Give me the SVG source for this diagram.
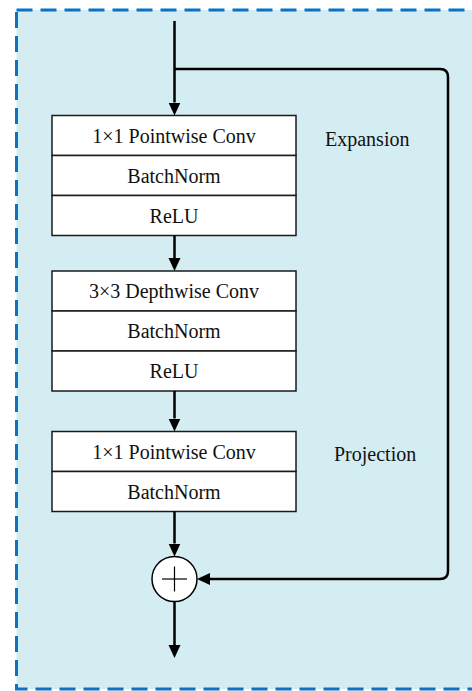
<svg xmlns="http://www.w3.org/2000/svg" width="472" height="691" viewBox="0 0 472 691">
  <style>
    .frame { fill: #d4edf2; stroke: #0b72c4; stroke-width: 3; stroke-dasharray: 16 8; }
    .cell { fill: #ffffff; stroke: #1a1a1a; stroke-width: 1.5; }
    .label { font-family: "Liberation Serif", "Times New Roman", serif; font-size: 20px; fill: #111111; }
    .mid { text-anchor: middle; }
    .wire { fill: none; stroke: #000000; stroke-width: 2.5; }
    .sum { fill: #ffffff; stroke: #000000; stroke-width: 1.5; }
    .plus { stroke: #000000; stroke-width: 1.2; }
  </style>
  <defs>
    <marker id="head" markerUnits="userSpaceOnUse" markerWidth="14" markerHeight="14" viewBox="0 -7 14 14" refX="0" refY="0" orient="auto">
      <path d="M0,-6 L13,0 L0,6 z" fill="#000000"/>
    </marker>
  </defs>

  <!-- dashed block boundary -->
  <rect class="frame" x="16.5" y="10" width="470" height="679"/>

  <!-- expansion stage -->
  <g id="expansion">
    <rect class="cell" x="52" y="115.5" width="244" height="40"/>
    <rect class="cell" x="52" y="155.5" width="244" height="40"/>
    <rect class="cell" x="52" y="195.5" width="244" height="40"/>
    <text class="label mid" x="174" y="142.5">1×1 Pointwise Conv</text>
    <text class="label mid" x="174" y="182.5">BatchNorm</text>
    <text class="label mid" x="174" y="222.5">ReLU</text>
  </g>
  <text id="expansion-label" class="label" x="325" y="146">Expansion</text>

  <!-- depthwise stage -->
  <g id="depthwise">
    <rect class="cell" x="52" y="271" width="244" height="40"/>
    <rect class="cell" x="52" y="311" width="244" height="40"/>
    <rect class="cell" x="52" y="351" width="244" height="40"/>
    <text class="label mid" x="174" y="298">3×3 Depthwise Conv</text>
    <text class="label mid" x="174" y="338">BatchNorm</text>
    <text class="label mid" x="174" y="378">ReLU</text>
  </g>

  <!-- projection stage -->
  <g id="projection">
    <rect class="cell" x="52" y="431.5" width="244" height="40"/>
    <rect class="cell" x="52" y="471.5" width="244" height="40"/>
    <text class="label mid" x="174" y="458.5">1×1 Pointwise Conv</text>
    <text class="label mid" x="174" y="498.5">BatchNorm</text>
  </g>
  <text id="projection-label" class="label" x="334" y="461">Projection</text>

  <!-- residual addition -->
  <g id="add">
    <circle class="sum" cx="174.5" cy="579" r="22.5"/>
    <line class="plus" x1="162" y1="579" x2="187" y2="579"/>
    <line class="plus" x1="174.5" y1="566.5" x2="174.5" y2="591.5"/>
  </g>

  <!-- connectors -->
  <g id="connectors">
    <line class="wire" x1="174.5" y1="21" x2="174.5" y2="102.5" marker-end="url(#head)"/>
    <line class="wire" x1="174.5" y1="235.5" x2="174.5" y2="258" marker-end="url(#head)"/>
    <line class="wire" x1="174.5" y1="391" x2="174.5" y2="418.5" marker-end="url(#head)"/>
    <line class="wire" x1="174.5" y1="511.5" x2="174.5" y2="543.5" marker-end="url(#head)"/>
    <line class="wire" x1="174.5" y1="601.5" x2="174.5" y2="645" marker-end="url(#head)"/>
    <path class="wire" d="M174.5,69 H440 Q448,69 448,77 V571 Q448,579 440,579 H210" marker-end="url(#head)"/>
  </g>
</svg>
